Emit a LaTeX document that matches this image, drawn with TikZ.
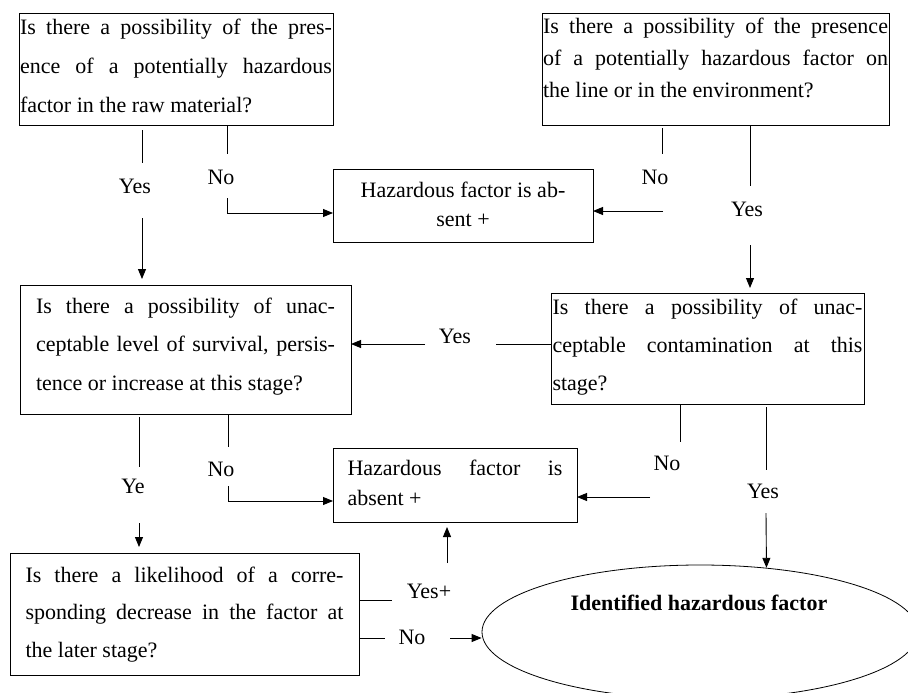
\documentclass[tikz,border=0pt]{standalone}
\usepackage{fontspec}
\setmainfont{Liberation Serif}
\usetikzlibrary{arrows.meta,shapes.geometric,calc}
\newcommand\jline[1]{\makebox[\linewidth][s]{#1}\par}
\newcommand\boxtext[5]{\parbox[c][#1][t]{#2}{\fontsize{22}{#3}\selectfont\vspace*{#4}#5}}
\begin{document}
\begin{tikzpicture}[x=1pt,y=-1pt,
  qbox/.style={draw, line width=0.9pt, inner sep=0pt, outer sep=0pt, anchor=north west},
  conn/.style={line width=0.9pt},
  arr/.style={conn, -{Triangle[length=10pt,width=8pt]}},
  lbl/.style={inner sep=0pt, font=\fontsize{22}{26}\selectfont}]
\useasboundingbox (0,0) rectangle (908,693);

% boxes
\node[qbox, minimum width=314pt, minimum height=112pt] (q1) at (19,13)
  {\boxtext{112pt}{312pt}{39pt}{5.7pt}{\jline{Is there a possibility of the pres-}\jline{ence of a potentially hazardous}factor in the raw material?}};
\node[qbox, minimum width=347pt, minimum height=112pt] (q2) at (542,13)
  {\boxtext{112pt}{345pt}{32pt}{4.7pt}{\jline{Is there a possibility of the presence}\jline{of a potentially hazardous factor on}the line or in the environment?}};
\node[qbox, minimum width=260pt, minimum height=73pt] (h1) at (333,169)
  {\boxtext{73pt}{250pt}{29.5pt}{12.7pt}{\centering Hazardous factor is ab-\\sent +}};
\node[qbox, minimum width=331pt, minimum height=129pt] (q3) at (20,285)
  {\boxtext{129pt}{299pt}{38.5pt}{12.7pt}{\jline{Is there a possibility of unac-}\jline{ceptable level of survival, persis-}tence or increase at this stage?}};
\node[qbox, minimum width=313pt, minimum height=111pt] (q4) at (551,293)
  {\boxtext{111pt}{310pt}{38pt}{5.7pt}{\jline{Is there a possibility of unac-}\jline{ceptable contamination at this}stage?}};
\node[qbox, minimum width=244pt, minimum height=74pt] (h2) at (333,448)
  {\boxtext{74pt}{215pt}{30pt}{11.7pt}{\jline{Hazardous factor is}absent +}};
\node[qbox, minimum width=349pt, minimum height=122pt] (q5) at (10,553)
  {\boxtext{122pt}{318pt}{37.5pt}{13.7pt}{\jline{Is there a likelihood of a corre-}\jline{sponding decrease in the factor at}the later stage?}};

% ellipse (cut by the picture edge)
\begin{scope}
\clip (0,0) rectangle (908,693);
\node[draw, ellipse, line width=0.8pt, minimum width=436pt, minimum height=134pt, inner sep=0pt] (hf) at (700,632) {};
\end{scope}
\node[lbl, font=\fontsize{22}{26}\selectfont\bfseries] (hft) at (699,603) {Identified hazardous factor};

% labels
\node[lbl] (yes1) at (135,186) {Yes};
\node[lbl] (no1) at (221,177) {No};
\node[lbl] (no2) at (655,177) {No};
\node[lbl] (yes2) at (747,209) {Yes};
\node[lbl] (yes3) at (455,336) {Yes};
\node[lbl] (ye) at (133,486) {Ye};
\node[lbl] (no3) at (221,469) {No};
\node[lbl] (no4) at (667,463) {No};
\node[lbl] (yes4) at (763,491) {Yes};
\node[lbl] (yesp) at (429,591) {Yes+};
\node[lbl] (no5) at (412,637) {No};

% connectors
\draw[conn] ($(q1.south west)+(123,5)$) -- ++(0,33);
\draw[arr] ($(q1.south west)+(123,93)$) -- ($(q3.north west)+(122,-6)$);
\draw[conn] ($(q1.south west)+(208,0)$) -- ++(0,29);
\draw[arr] ($(q1.south west)+(208,73)$) |- ($(h1.north west)+(0,44)$);
\draw[conn] ($(q2.south west)+(120,3)$) -- ++(0,26);
\draw[arr] ($(q2.south west)+(121,86)$) -- ($(h1.north east)+(0,42)$);
\draw[conn] ($(q2.south west)+(208,0)$) -- ++(0,61);
\draw[arr] ($(q2.south west)+(208,120)$) -- ($(q4.north west)+(199,-5)$);
\draw[conn] ($(q4.north west)+(0,51)$) -- ++(-55,0);
\draw[arr] ($(q4.north west)+(-126,51)$) -- ($(q3.north east)+(0,59)$);
\draw[conn] ($(q3.south west)+(119,3)$) -- ++(0,50);
\draw[arr] ($(q3.south west)+(119,109)$) -- ($(q5.north west)+(129,-6)$);
\draw[conn] ($(q3.south west)+(208,0)$) -- ++(0,33);
\draw[arr] ($(q3.south west)+(208,72)$) |- ($(h2.north west)+(0,53)$);
\draw[conn] ($(q4.south west)+(129,0)$) -- ++(0,38);
\draw[arr] ($(q4.south west)+(99,93)$) -- ($(h2.north east)+(0,49)$);
\draw[conn] ($(q4.south west)+(215,3)$) -- ++(0,63);
\draw[arr] ($(q4.south west)+(215,109)$) -- (hf.44);
\draw[conn] ($(q5.north east)+(0,47)$) -- ++(33,0);
\draw[arr] ($(h2.south west)+(114,41)$) -- ($(h2.south west)+(114,5)$);
\draw[conn] ($(q5.north east)+(0,85)$) -- ++(26,0);
\coordinate (n5) at ($(q5.north east)+(91,85)$);
\draw[arr] (n5) -- (n5 -| hf.west);
\end{tikzpicture}
\end{document}
